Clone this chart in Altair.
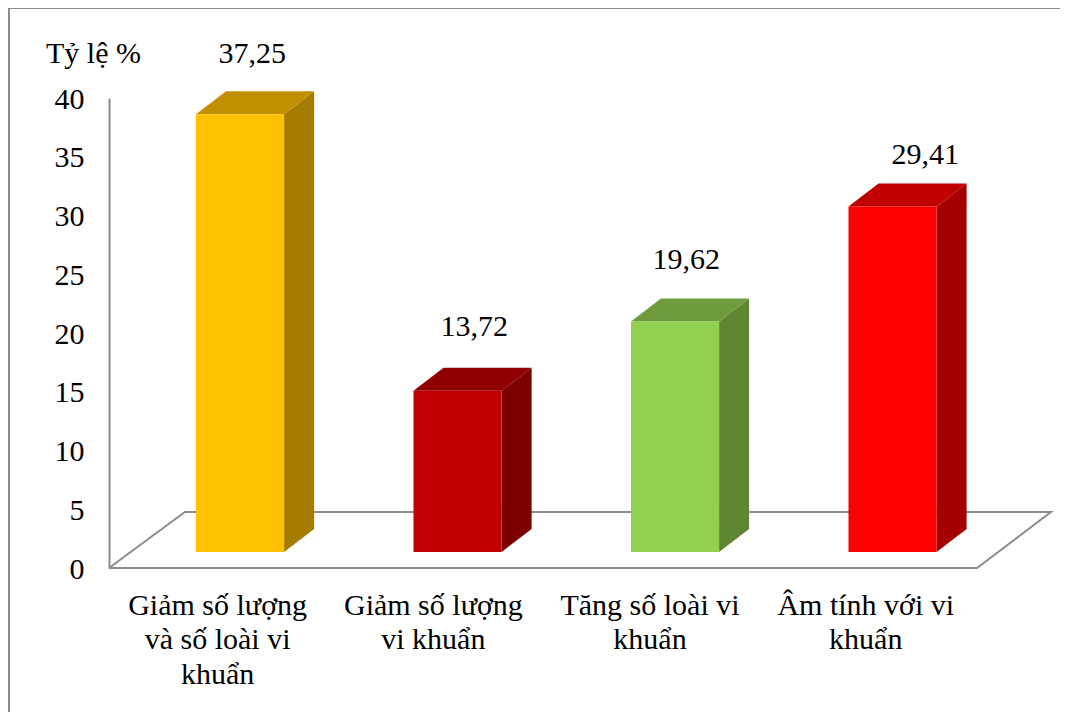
import altair as alt
import pandas as pd

categories = ["Giảm số lượng|và số loài vi|khuẩn", "Giảm số lượng|vi khuẩn", "Tăng số loài vi|khuẩn", "Âm tính với vi|khuẩn"]
values = [37.25, 13.72, 19.62, 29.41]
value_text = ["37,25", "13,72", "19,62", "29,41"]
front_colors = ["#FFC000", "#C00000", "#92D050", "#FF0000"]
top_colors = ["#C09000", "#900000", "#6E9C3C", "#C00000"]
side_colors = ["#A67C00", "#7C0000", "#5F8733", "#A50000"]
label_dx = [34.5, 39, 33.5, 55]
label_dy = [-76, -80, -77, -67]

FONT = "Liberation Serif"
SIZE = 30
GRAY = "#8C8C8C"
BASE = 1.36       # bars stand on the 3D floor, above the axis zero
DEPTH_X = 0.138
DEPTH_Y = 1.957
LEFT = 0.40
BAR_W = 0.405

xs = alt.Scale(domain=[0, 4], nice=False)
ys = alt.Scale(domain=[0, 40], nice=False)

front_rows, face_rows, label_rows = [], [], []
for i, v in enumerate(values):
    x1, x2 = i + LEFT, i + LEFT + BAR_W
    t = BASE + v
    front_rows.append(dict(x=x1, x2=x2, y=t, y2=BASE, c=front_colors[i]))
    face_rows += [
        dict(face=f"s{i}", x=x2, y=t, y2=BASE, c=side_colors[i]),
        dict(face=f"s{i}", x=x2 + DEPTH_X, y=t + DEPTH_Y, y2=BASE + DEPTH_Y, c=side_colors[i]),
        dict(face=f"t{i}", x=x1, y=t, y2=t, c=top_colors[i]),
        dict(face=f"t{i}", x=x1 + DEPTH_X, y=t + DEPTH_Y, y2=t, c=top_colors[i]),
        dict(face=f"t{i}", x=x2, y=t + DEPTH_Y, y2=t, c=top_colors[i]),
        dict(face=f"t{i}", x=x2 + DEPTH_X, y=t + DEPTH_Y, y2=t + DEPTH_Y, c=top_colors[i]),
    ]

floor_x = [0, 0.349, 4.331, 3.991, 0]
floor_y = [0, 4.77, 4.77, 0, 0]
floor = pd.DataFrame(dict(x=floor_x, y=floor_y, o=range(5)))

label_expr = "split([" + ",".join(f"'{c}'" for c in categories) + "][floor(datum.value)], '|')"

base_layer = (
    alt.Chart(floor)
    .mark_line(color=GRAY, strokeWidth=2, clip=False)
    .encode(
        x=alt.X("x:Q", scale=xs, title=None, axis=alt.Axis(
            values=[0.497, 1.489, 2.485, 3.477], labelExpr=label_expr, domain=False, ticks=False, grid=False,
            labelFont=FONT, labelFontSize=SIZE, labelColor="#000000", labelPadding=22,
            labelLineHeight=34.5, labelLimit=400, labelOverlap=False, labelFlush=False,
            labelBound=False, labelBaseline="top", labelAngle=0, labelAlign="center")),
        y=alt.Y("y:Q", scale=ys, title=None, axis=alt.Axis(
            values=[0, 5, 10, 15, 20, 25, 30, 35, 40], domain=True, domainColor=GRAY, domainWidth=2,
            ticks=False, grid=False, labelFont=FONT, labelFontSize=SIZE, labelColor="#000000",
            labelPadding=25, labelOffset=1, labelOverlap=False, labelFlush=False, labelBound=False)),
        order="o:O",
    )
)

faces = (
    alt.Chart(pd.DataFrame(face_rows))
    .mark_area(clip=False)
    .encode(
        x=alt.X("x:Q", scale=xs), y=alt.Y("y:Q", scale=ys), y2="y2:Q",
        detail="face:N", color=alt.Color("c:N", scale=None),
    )
)

fronts = (
    alt.Chart(pd.DataFrame(front_rows))
    .mark_rect(clip=False)
    .encode(
        x=alt.X("x:Q", scale=xs), x2="x2:Q", y=alt.Y("y:Q", scale=ys), y2="y2:Q",
        color=alt.Color("c:N", scale=None),
    )
)

layers = [base_layer, faces, fronts]
for i, v in enumerate(values):
    layers.append(
        alt.Chart(pd.DataFrame([dict(x=i + 0.5, y=v, t=value_text[i])]))
        .mark_text(font=FONT, fontSize=SIZE, color="#000000", dx=label_dx[i], dy=label_dy[i], clip=False)
        .encode(x=alt.X("x:Q", scale=xs), y=alt.Y("y:Q", scale=ys), text="t:N")
    )

unit = pd.DataFrame(dict(a=[0]))
layers.append(
    alt.Chart(unit).mark_text(font=FONT, fontSize=SIZE, color="#000000", align="left", text="Tỷ lệ %")
    .encode(x=alt.value(-63), y=alt.value(-44))
)
layers.append(
    alt.Chart(unit).mark_rule(color=GRAY, strokeWidth=2)
    .encode(x=alt.value(-100), y=alt.value(-90), y2=alt.value(640))
)
layers.append(
    alt.Chart(unit).mark_rule(color=GRAY, strokeWidth=2)
    .encode(x=alt.value(-100), x2=alt.value(980), y=alt.value(-90))
)

chart = (
    alt.layer(*layers)
    .properties(
        width=870, height=470,
        padding={"left": 101, "top": 90, "right": 81, "bottom": 144},
        autosize=alt.AutoSizeParams(type="none"),
        background="#FFFFFF",
    )
    .configure_view(stroke=None)
)

chart.save("out.html", embed_options={"renderer": "svg", "actions": False})
